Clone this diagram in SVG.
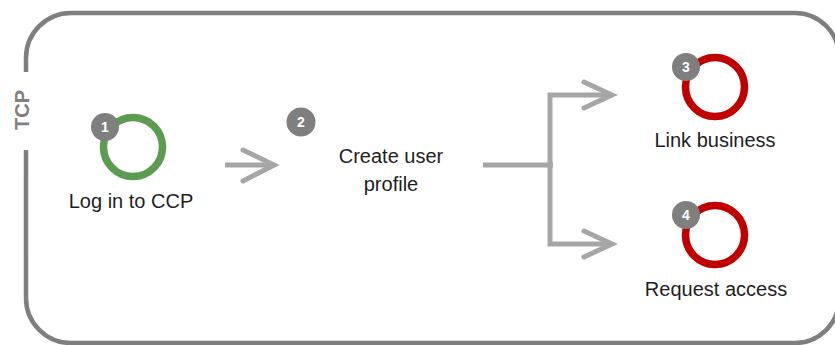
<svg xmlns="http://www.w3.org/2000/svg" width="835" height="345" viewBox="0 0 835 345">
<style>
.frame{fill:none;stroke:#7f7f7f;stroke-width:4.5}
.conn{fill:none;stroke:#a6a6a6;stroke-width:5}
.head{fill:none;stroke:#a6a6a6;stroke-width:5;stroke-linecap:round;stroke-linejoin:miter}
.ringg{fill:none;stroke:#5b9c50;stroke-width:7.5}
.ringr{fill:none;stroke:#c00000;stroke-width:7.5}
.badge{fill:#7f7f7f}
.bnum{font-family:"Liberation Sans",Arial,sans-serif;font-size:14px;font-weight:bold;fill:#ffffff;text-anchor:middle}
.lbl{font-family:"Liberation Sans",Arial,sans-serif;font-size:20px;fill:#1e1e1e;text-anchor:middle}
.tcp{font-family:"Liberation Sans",Arial,sans-serif;font-size:20px;font-weight:bold;fill:#7f7f7f;text-anchor:middle}
</style>
<g id="frame">
<path class="frame" d="M26,72 V58 A45,45 0 0 1 71,13 H795 A44,44 0 0 1 839,57 V299 A44,44 0 0 1 795,343 H71 A45,45 0 0 1 26,298 V150"/>
<text class="tcp" transform="translate(29,110) rotate(-90)">TCP</text>
</g>
<g id="connectors">
<line class="conn" x1="225" y1="165" x2="273" y2="165"/>
<polyline class="head" points="243,150 274,165 243,181"/>
<line class="conn" x1="483" y1="165" x2="553" y2="165"/>
<polyline class="conn" points="611,95 550,95 550,244 611,244"/>
<polyline class="head" points="584,82 612,95 584,108"/>
<polyline class="head" points="584,231 612,244 584,257"/>
</g>
<g id="node1">
<circle class="ringg" cx="133" cy="147" r="29.5"/>
<circle class="badge" cx="105" cy="127" r="14"/>
<text class="bnum" x="105" y="132">1</text>
<text class="lbl" x="131" y="208">Log in to CCP</text>
</g>
<g id="node2">
<circle class="badge" cx="301" cy="122" r="14.5"/>
<text class="bnum" x="301" y="127">2</text>
<text class="lbl" x="391" y="163">Create user</text>
<text class="lbl" x="391" y="191">profile</text>
</g>
<g id="node3">
<circle class="ringr" cx="715" cy="87" r="29.5"/>
<circle class="badge" cx="686" cy="67" r="14"/>
<text class="bnum" x="686" y="72">3</text>
<text class="lbl" x="715" y="147">Link business</text>
</g>
<g id="node4">
<circle class="ringr" cx="715" cy="235" r="29.5"/>
<circle class="badge" cx="686" cy="215" r="14"/>
<text class="bnum" x="686" y="220">4</text>
<text class="lbl" x="716" y="296">Request access</text>
</g>
</svg>
